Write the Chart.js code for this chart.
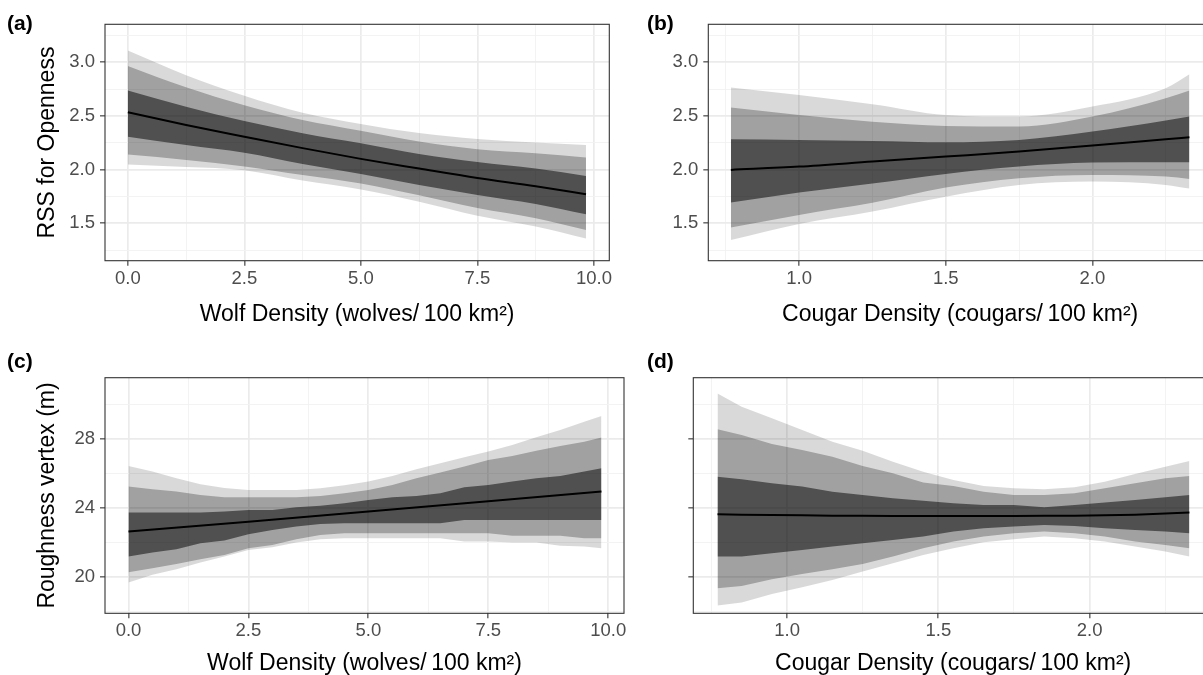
<!DOCTYPE html>
<html>
<head>
<meta charset="utf-8">
<title>RSS and roughness vs predator density</title>
<script src="https://cdn.jsdelivr.net/npm/chart.js@4.4.0/dist/chart.umd.min.js"></script>
<style>
  html, body { margin: 0; padding: 0; background: #fff; }
  body { position: relative; width: 1203px; height: 675px; overflow: hidden; font-family: "Liberation Sans", Arial, sans-serif; }
  .panel { position: absolute; }
  .tag { position: absolute; font-weight: bold; font-size: 21px; color: #000; line-height: 1; }
</style>
</head>
<body>
<div class="panel" style="left:0;top:0"><canvas id="chartA" width="640" height="345"></canvas></div>
<div class="panel" style="left:640px;top:0"><canvas id="chartB" width="600" height="345"></canvas></div>
<div class="panel" style="left:0;top:345px"><canvas id="chartC" width="640" height="345"></canvas></div>
<div class="panel" style="left:640px;top:345px"><canvas id="chartD" width="600" height="345"></canvas></div>
<div class="tag" style="left:7px;top:12px">(a)</div>
<div class="tag" style="left:647px;top:12px">(b)</div>
<div class="tag" style="left:7px;top:350px">(c)</div>
<div class="tag" style="left:647px;top:350px">(d)</div>

<script>
// Tick marks and labels
const wolfMajor = [0, 2.5, 5, 7.5, 10];
const wolfLabels = ['0.0', '2.5', '5.0', '7.5', '10.0'];
const wolfMinor = [1.25, 3.75, 6.25, 8.75];
const cougarMajor = [1.0, 1.5, 2.0];
const cougarLabels = ['1.0', '1.5', '2.0'];
const cougarMinor = [0.75, 1.25, 1.75, 2.25];
const rssMajor = [1.5, 2.0, 2.5, 3.0];
const rssLabels = ['1.5', '2.0', '2.5', '3.0'];
const rssMinor = [1.25, 1.75, 2.25, 2.75, 3.25];
const roughMajor = [20, 24, 28];
const roughLabels = ['20', '24', '28'];
const roughMinor = [18, 22, 26, 30];

// (a) RSS openness vs wolf density
const xA = [0, 1.25, 2.5, 3.75, 5.0, 6.25, 7.5, 8.75, 9.83];
const aLightHi = [3.109, 2.880, 2.688, 2.530, 2.425, 2.340, 2.285, 2.252, 2.230];
const aMidHi   = [2.966, 2.767, 2.600, 2.463, 2.363, 2.262, 2.190, 2.152, 2.112];
const aDarkHi  = [2.736, 2.585, 2.452, 2.339, 2.245, 2.145, 2.070, 2.010, 1.941];
const aFit     = [2.534, 2.416, 2.307, 2.200, 2.100, 2.010, 1.922, 1.845, 1.770];
const aDarkLo  = [2.307, 2.230, 2.158, 2.053, 1.960, 1.857, 1.764, 1.680, 1.584];
const aMidLo   = [2.140, 2.090, 2.030, 1.950, 1.870, 1.760, 1.642, 1.547, 1.438];
const aLightLo = [2.047, 2.025, 1.995, 1.898, 1.815, 1.700, 1.570, 1.469, 1.357];

// (b) RSS openness vs cougar density
const xB = [0.767, 1.0, 1.25, 1.5, 1.75, 2.0, 2.25, 2.331];
const bLightHi = [2.764, 2.695, 2.610, 2.509, 2.494, 2.587, 2.758, 2.888];
const bMidHi   = [2.578, 2.509, 2.447, 2.407, 2.401, 2.494, 2.665, 2.736];
const bDarkHi  = [2.283, 2.276, 2.267, 2.255, 2.276, 2.354, 2.457, 2.494];
const bFit     = [1.997, 2.028, 2.075, 2.121, 2.168, 2.224, 2.283, 2.301];
const bDarkLo  = [1.693, 1.786, 1.870, 1.960, 2.028, 2.065, 2.068, 2.068];
const bMidLo   = [1.460, 1.578, 1.690, 1.832, 1.919, 1.950, 1.935, 1.913];
const bLightLo = [1.345, 1.494, 1.610, 1.748, 1.857, 1.888, 1.857, 1.823];

// (c) roughness vs wolf density
const xC = [0, 0.5, 1.0, 1.5, 2.0, 2.5, 3.0, 3.5, 4.0, 4.5, 5.0, 5.5, 6.0, 6.5, 7.0, 7.5, 8.0, 8.5, 9.0, 9.5, 9.86];
const cLightHi = [26.45, 26.13, 25.74, 25.39, 25.18, 25.06, 25.06, 25.06, 25.16, 25.33, 25.55, 25.87, 26.26, 26.61, 26.96, 27.29, 27.67, 28.12, 28.54, 29.02, 29.35];
const cMidHi   = [25.26, 25.10, 24.97, 24.77, 24.64, 24.64, 24.64, 24.64, 24.71, 24.87, 25.06, 25.35, 25.74, 26.07, 26.42, 26.80, 27.03, 27.34, 27.61, 27.86, 28.10];
const cDarkHi  = [23.75, 23.75, 23.75, 23.75, 23.81, 23.90, 23.90, 24.06, 24.14, 24.29, 24.48, 24.64, 24.71, 24.87, 25.22, 25.35, 25.55, 25.74, 25.87, 26.13, 26.32];
const cDarkLo  = [21.20, 21.43, 21.62, 21.97, 22.13, 22.49, 22.74, 22.94, 23.09, 23.13, 23.13, 23.13, 23.13, 23.13, 23.32, 23.32, 23.32, 23.32, 23.32, 23.32, 23.32];
const cMidLo   = [20.29, 20.52, 20.77, 21.04, 21.29, 21.68, 21.87, 22.20, 22.45, 22.55, 22.55, 22.55, 22.55, 22.55, 22.55, 22.55, 22.40, 22.40, 22.40, 22.26, 22.26];
const cLightLo = [19.69, 20.14, 20.46, 20.85, 21.20, 21.58, 21.74, 22.01, 22.20, 22.26, 22.26, 22.26, 22.26, 22.26, 22.07, 22.07, 22.01, 22.01, 21.82, 21.78, 21.68];
const xCFit = [0, 2.5, 5.0, 7.5, 9.86];
const cFit  = [22.65, 23.22, 23.81, 24.40, 24.97];

// (d) roughness vs cougar density
const xD = [0.77, 0.85, 0.95, 1.05, 1.15, 1.25, 1.35, 1.45, 1.55, 1.65, 1.75, 1.85, 1.95, 2.05, 2.15, 2.25, 2.33];
const dLightHi = [30.66, 29.89, 29.22, 28.54, 27.86, 27.34, 26.70, 26.12, 25.64, 25.29, 25.16, 25.10, 25.22, 25.54, 25.99, 26.41, 26.74];
const dMidHi   = [28.58, 28.25, 27.73, 27.38, 26.99, 26.45, 26.03, 25.49, 25.29, 24.96, 24.77, 24.77, 24.87, 25.16, 25.45, 25.74, 25.87];
const dDarkHi  = [25.83, 25.68, 25.45, 25.26, 24.96, 24.77, 24.58, 24.44, 24.29, 24.19, 24.19, 24.06, 24.19, 24.33, 24.48, 24.64, 24.77];
const dFit     = [23.65, 23.63, 23.61, 23.59, 23.57, 23.56, 23.55, 23.55, 23.55, 23.55, 23.55, 23.56, 23.57, 23.59, 23.63, 23.69, 23.75];
const dDarkLo  = [21.20, 21.20, 21.39, 21.58, 21.78, 21.97, 22.16, 22.36, 22.65, 22.84, 22.94, 23.03, 22.97, 22.84, 22.74, 22.65, 22.55];
const dMidLo   = [19.36, 19.50, 19.88, 20.19, 20.46, 20.77, 21.20, 21.68, 22.07, 22.36, 22.55, 22.65, 22.55, 22.36, 22.07, 21.87, 21.68];
const dLightLo = [18.36, 18.53, 19.03, 19.42, 19.84, 20.33, 20.81, 21.29, 21.68, 22.03, 22.20, 22.36, 22.26, 22.07, 21.78, 21.49, 21.20];

const FONT = '"Liberation Sans", Arial, sans-serif';
const wolfTitle = 'Wolf Density (wolves/\u2009100 km\u00B2)';
const cougarTitle = 'Cougar Density (cougars/\u2009100 km\u00B2)';

const pts = (xs, ys) => xs.map((v, i) => ({ x: v, y: ys[i] }));

// kotak panel (theme_bw)
const panelBorder = {
    id: 'panelBorder',
    afterDatasetsDraw(chart) {
        const { ctx, chartArea: a } = chart;
        ctx.save();
        ctx.strokeStyle = '#333333';
        ctx.lineWidth = 1.1;
        ctx.strokeRect(a.left, a.top, a.right - a.left, a.bottom - a.top);
        ctx.restore();
    }
};

function axis(opts) {
    const isMajor = c => c.tick && opts.major.includes(c.tick.value);
    return {
        type: 'linear',
        min: opts.min,
        max: opts.max,
        afterBuildTicks: s => { s.ticks = opts.major.concat(opts.minor).sort((p, q) => p - q).map(v => ({ value: v })); },
        afterFit: s => { if (opts.width) s.width = opts.width; if (opts.height) s.height = opts.height; },
        border: { display: false },
        grid: {
            color: c => isMajor(c) ? '#EBEBEB' : '#F2F2F2',
            lineWidth: c => isMajor(c) ? 1.7 : 0.9,
            tickColor: c => isMajor(c) ? '#333333' : 'rgba(0,0,0,0)',
            tickLength: 5,
            tickWidth: 1.1
        },
        ticks: {
            autoSkip: false,
            maxRotation: 0,
            padding: opts.tickPad,
            color: '#4D4D4D',
            font: { family: FONT, size: 18.5 },
            callback: v => {
                const i = opts.major.indexOf(v);
                return (i >= 0 && opts.labels) ? opts.labels[i] : '';
            }
        },
        title: {
            display: !!opts.title,
            text: opts.title,
            color: '#000',
            font: { family: FONT, size: 23 },
            padding: opts.titlePad
        }
    };
}

function band(xs, ys, fillColor) {
    return {
        data: pts(xs, ys), fill: fillColor ? '+1' : false,
        backgroundColor: fillColor || 'rgba(0,0,0,0)',
        borderColor: 'rgba(0,0,0,0)', borderWidth: 0, pointRadius: 0
    };
}

function makePanel(id, p) {
    const mode = p.smooth ? 'monotone' : 'default';
    const datasets = [
        { data: pts(p.xFit, p.fit), borderColor: '#000', borderWidth: 2, pointRadius: 0, fill: false },
        band(p.x, p.darkHi, 'rgba(0,0,0,0.50)'),
        band(p.x, p.darkLo),
        band(p.x, p.midHi, 'rgba(0,0,0,0.26)'),
        band(p.x, p.midLo),
        band(p.x, p.lightHi, 'rgba(0,0,0,0.15)'),
        band(p.x, p.lightLo)
    ];
    datasets.forEach(d => { d.cubicInterpolationMode = mode; });
    new Chart(document.getElementById(id), {
        type: 'line',
        data: { datasets },
        options: {
            responsive: false,
            animation: false,
            events: [],
            layout: { padding: p.pad },
            plugins: { legend: { display: false }, tooltip: { enabled: false } },
            scales: { x: axis(p.xAxis), y: axis(p.yAxis) }
        },
        plugins: [panelBorder]
    });
}

makePanel('chartA', {
    x: xA, xFit: xA, fit: aFit, smooth: true,
    lightHi: aLightHi, midHi: aMidHi, darkHi: aDarkHi, darkLo: aDarkLo, midLo: aMidLo, lightLo: aLightLo,
    pad: { left: 0, top: 24.3, right: 30.7, bottom: 0 },
    xAxis: { min: -0.49, max: 10.33, major: wolfMajor, minor: wolfMinor, labels: wolfLabels, height: 84.3, tickPad: 2, title: wolfTitle, titlePad: { bottom: 17 } },
    yAxis: { min: 1.151, max: 3.354, major: rssMajor, minor: rssMinor, labels: rssLabels, width: 105, tickPad: 5, title: 'RSS for Openness', titlePad: { top: 34 } }
});

makePanel('chartB', {
    x: xB, xFit: xB, fit: bFit, smooth: true,
    lightHi: bLightHi, midHi: bMidHi, darkHi: bDarkHi, darkLo: bDarkLo, midLo: bMidLo, lightLo: bLightLo,
    pad: { left: 0, top: 24.3, right: 28, bottom: 0 },
    xAxis: { min: 0.69, max: 2.408, major: cougarMajor, minor: cougarMinor, labels: cougarLabels, height: 84.3, tickPad: 2, title: cougarTitle, titlePad: { bottom: 17 } },
    yAxis: { min: 1.151, max: 3.354, major: rssMajor, minor: rssMinor, labels: rssLabels, width: 68.3, tickPad: 5 }
});

makePanel('chartC', {
    x: xC, xFit: xCFit, fit: cFit, smooth: false,
    lightHi: cLightHi, midHi: cMidHi, darkHi: cDarkHi, darkLo: cDarkLo, midLo: cMidLo, lightLo: cLightLo,
    pad: { left: 0, top: 32.7, right: 16, bottom: 0 },
    xAxis: { min: -0.49, max: 10.33, major: wolfMajor, minor: wolfMinor, labels: wolfLabels, height: 76.7, tickPad: 2, title: wolfTitle, titlePad: { bottom: 13 } },
    yAxis: { min: 17.91, max: 31.57, major: roughMajor, minor: roughMinor, labels: roughLabels, width: 105, tickPad: 5, title: 'Roughness vertex (m)', titlePad: { top: 34 } }
});

makePanel('chartD', {
    x: xD, xFit: xD, fit: dFit, smooth: false,
    lightHi: dLightHi, midHi: dMidHi, darkHi: dDarkHi, darkLo: dDarkLo, midLo: dMidLo, lightLo: dLightLo,
    pad: { left: 0, top: 32.7, right: 27, bottom: 0 },
    xAxis: { min: 0.69, max: 2.408, major: cougarMajor, minor: cougarMinor, labels: cougarLabels, height: 76.7, tickPad: 2, title: cougarTitle, titlePad: { bottom: 13 } },
    yAxis: { min: 17.91, max: 31.57, major: roughMajor, minor: roughMinor, labels: null, width: 53.3, tickPad: 5 }
});
</script>
</body>
</html>
